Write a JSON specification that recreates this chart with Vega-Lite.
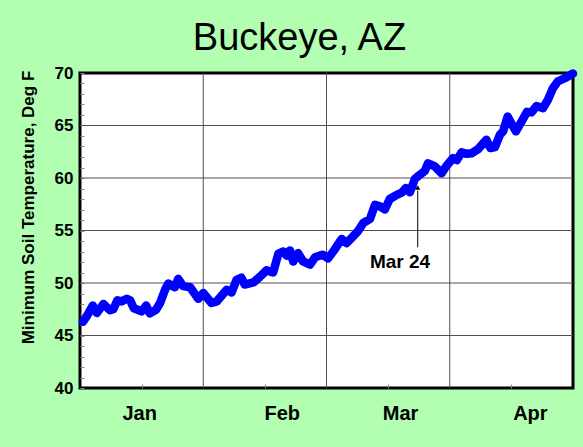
{
  "$schema": "https://vega.github.io/schema/vega-lite/v6.json",
  "width": 493,
  "height": 315,
  "autosize": {"type": "none"},
  "padding": {"left": 80, "top": 73, "right": 10, "bottom": 59},
  "background": "#b2ffb2",
  "config": {
    "font": "Liberation Sans",
    "view": {"stroke": "black", "strokeWidth": 3, "fill": "white"}
  },
  "title": {
    "text": "Buckeye, AZ",
    "fontSize": 38,
    "fontWeight": "normal",
    "color": "black",
    "anchor": "middle",
    "frame": "group",
    "dx": -27,
    "baseline": "alphabetic",
    "offset": -24
  },
  "datasets": {
    "temps": [
      {"d": 0.7, "v": 46.3}, {"d": 1.6, "v": 46.8}, {"d": 3.1, "v": 47.85}, {"d": 4.1, "v": 47.15},
      {"d": 5.7, "v": 48.0}, {"d": 7.3, "v": 47.4}, {"d": 8.1, "v": 47.5}, {"d": 9.1, "v": 48.35},
      {"d": 10.1, "v": 48.25}, {"d": 11.4, "v": 48.5}, {"d": 12.2, "v": 48.35}, {"d": 13.1, "v": 47.6},
      {"d": 15.0, "v": 47.3}, {"d": 16.1, "v": 47.85}, {"d": 17.0, "v": 47.1}, {"d": 18.5, "v": 47.45},
      {"d": 19.5, "v": 48.1}, {"d": 20.7, "v": 49.35}, {"d": 21.5, "v": 49.95}, {"d": 23.1, "v": 49.6},
      {"d": 23.9, "v": 50.4}, {"d": 25.1, "v": 49.7}, {"d": 26.8, "v": 49.6}, {"d": 28.8, "v": 48.5},
      {"d": 30.0, "v": 49.05}, {"d": 32.0, "v": 48.1}, {"d": 33.3, "v": 48.25}, {"d": 35.7, "v": 49.35},
      {"d": 36.9, "v": 49.1}, {"d": 38.1, "v": 50.3}, {"d": 39.3, "v": 50.5}, {"d": 40.1, "v": 49.85},
      {"d": 42.2, "v": 50.05}, {"d": 43.8, "v": 50.6}, {"d": 45.4, "v": 51.2}, {"d": 47.0, "v": 51.0},
      {"d": 48.3, "v": 52.8}, {"d": 49.5, "v": 53.0}, {"d": 50.3, "v": 52.6}, {"d": 51.1, "v": 53.1},
      {"d": 51.9, "v": 52.05}, {"d": 53.1, "v": 52.85}, {"d": 54.3, "v": 52.05}, {"d": 56.0, "v": 51.75},
      {"d": 57.2, "v": 52.45}, {"d": 59.0, "v": 52.7}, {"d": 60.4, "v": 52.35}, {"d": 62.0, "v": 53.2},
      {"d": 63.7, "v": 54.2}, {"d": 64.9, "v": 53.8}, {"d": 66.5, "v": 54.45}, {"d": 67.7, "v": 54.95},
      {"d": 68.9, "v": 55.7}, {"d": 70.6, "v": 56.1}, {"d": 71.8, "v": 57.45}, {"d": 73.0, "v": 57.3},
      {"d": 74.2, "v": 57.0}, {"d": 75.4, "v": 58.0}, {"d": 77.1, "v": 58.4}, {"d": 78.3, "v": 58.6},
      {"d": 79.3, "v": 59.05}, {"d": 80.3, "v": 58.65}, {"d": 81.5, "v": 59.9}, {"d": 82.7, "v": 60.3},
      {"d": 83.9, "v": 60.65}, {"d": 84.7, "v": 61.4}, {"d": 86.4, "v": 61.1}, {"d": 88.0, "v": 60.45},
      {"d": 89.2, "v": 61.15}, {"d": 90.8, "v": 61.9}, {"d": 91.7, "v": 61.7}, {"d": 92.9, "v": 62.45},
      {"d": 94.1, "v": 62.3}, {"d": 95.3, "v": 62.35}, {"d": 96.9, "v": 62.75}, {"d": 98.9, "v": 63.65},
      {"d": 99.9, "v": 62.85}, {"d": 101.0, "v": 62.95}, {"d": 102.2, "v": 64.1}, {"d": 103.0, "v": 64.45},
      {"d": 104.1, "v": 65.85}, {"d": 105.0, "v": 65.2}, {"d": 106.1, "v": 64.45}, {"d": 107.5, "v": 65.4},
      {"d": 108.8, "v": 66.3}, {"d": 109.9, "v": 66.25}, {"d": 111.1, "v": 66.85}, {"d": 112.7, "v": 66.65},
      {"d": 113.9, "v": 67.45}, {"d": 115.1, "v": 68.55}, {"d": 116.3, "v": 69.2}, {"d": 118.0, "v": 69.5},
      {"d": 120.0, "v": 69.95}
    ],
    "hgrid": [{"v": 45}, {"v": 50}, {"v": 55}, {"v": 60}, {"v": 65}],
    "vgrid": [{"d": 30}, {"d": 60}, {"d": 90}],
    "note": [{"d": 82.2, "tip": 59.1, "y1": 58.8, "y2": 53.4, "ld": 77.9, "lv": 51.45, "label": "Mar 24"}]
  },
  "layer": [
    {
      "data": {"name": "hgrid"},
      "mark": {"type": "rule", "color": "#505050", "strokeWidth": 1},
      "encoding": {
        "y": {"field": "v", "type": "quantitative", "scale": {"domain": [40, 70], "nice": false, "zero": false}, "axis": null}
      }
    },
    {
      "data": {"name": "vgrid"},
      "mark": {"type": "rule", "color": "#505050", "strokeWidth": 1},
      "encoding": {
        "x": {
          "field": "d", "type": "quantitative",
          "scale": {"domain": [0, 120], "nice": false, "zero": false},
          "axis": {"orient": "bottom", "values": [15, 45, 75, 105], "labels": false, "domain": false, "grid": false,
                   "ticks": true, "tickSize": -4, "tickColor": "#888888", "title": null}
        }
      }
    },
    {
      "data": {"name": "temps"},
      "mark": {"type": "line", "color": "#0000ff", "strokeWidth": 8.5, "strokeCap": "round", "strokeJoin": "round"},
      "encoding": {
        "x": {
          "field": "d", "type": "quantitative",
          "scale": {"domain": [0, 120], "nice": false, "zero": false},
          "axis": {
            "orient": "bottom", "values": [14.4, 49.1, 77.9, 109.5],
            "labelExpr": "datum.value < 30 ? 'Jan' : datum.value < 60 ? 'Feb' : datum.value < 90 ? 'Mar' : 'Apr'",
            "ticks": false, "domain": false, "grid": false, "title": null,
            "labelFontSize": 20, "labelFontWeight": "bold", "labelColor": "black",
            "labelPadding": 15, "labelFlush": false, "labelOverlap": false
          }
        },
        "y": {
          "field": "v", "type": "quantitative",
          "scale": {"domain": [40, 70], "nice": false, "zero": false},
          "axis": {
            "orient": "left",
            "values": [40,41,42,43,44,45,46,47,48,49,50,51,52,53,54,55,56,57,58,59,60,61,62,63,64,65,66,67,68,69,70],
            "labelExpr": "datum.value % 5 === 0 ? datum.label : ''",
            "tickSize": -4, "tickColor": "#888888", "grid": false, "domain": false,
            "labelFontSize": 17, "labelFontWeight": "bold", "labelColor": "black",
            "labelPadding": 11, "labelFlush": false, "labelOverlap": false,
            "title": "Minimum Soil Temperature, Deg F",
            "titleFontSize": 17, "titleFontWeight": "bold", "titleColor": "black",
            "titleX": -47, "titleY": 134, "titleBaseline": "alphabetic", "titleAngle": -90, "titleAlign": "center"
          }
        }
      }
    },
    {
      "data": {"name": "note"},
      "mark": {"type": "rule", "color": "black", "strokeWidth": 1},
      "encoding": {
        "x": {"field": "d", "type": "quantitative", "axis": null},
        "y": {"field": "y1", "type": "quantitative", "axis": null},
        "y2": {"field": "y2"}
      }
    },
    {
      "data": {"name": "note"},
      "mark": {"type": "point", "shape": "triangle-up", "filled": true, "color": "black", "size": 28, "opacity": 1},
      "encoding": {
        "x": {"field": "d", "type": "quantitative", "axis": null},
        "y": {"field": "tip", "type": "quantitative", "axis": null}
      }
    },
    {
      "data": {"name": "note"},
      "mark": {"type": "text", "fontSize": 19, "fontWeight": "bold", "color": "black", "align": "center", "baseline": "alphabetic"},
      "encoding": {
        "x": {"field": "ld", "type": "quantitative", "axis": null},
        "y": {"field": "lv", "type": "quantitative", "axis": null},
        "text": {"field": "label"}
      }
    }
  ],
  "resolve": {"axis": {"x": "independent", "y": "independent"}}
}
